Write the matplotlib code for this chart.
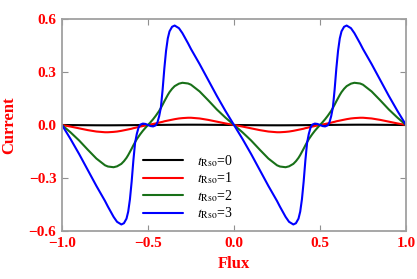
import matplotlib
matplotlib.use("Agg")
import matplotlib.pyplot as plt

plt.rcParams['mathtext.fontset'] = 'stix'
plt.rcParams['font.family'] = ['Liberation Serif', 'DejaVu Serif']

flux = [-1.0, -0.95, -0.90, -0.85, -0.80, -0.75, -0.733, -0.70, -0.68, -0.655, -0.64, -0.625,
        -0.615, -0.605, -0.595, -0.585, -0.575, -0.565, -0.555, -0.545, -0.53, -0.515,
        -0.50, -0.485, -0.47, -0.455, -0.445, -0.435, -0.425, -0.415, -0.405, -0.395,
        -0.385, -0.375, -0.36, -0.345, -0.32, -0.30, -0.267, -0.25, -0.20, -0.15, -0.10, -0.05,
        0.0, 0.05, 0.10, 0.15, 0.20, 0.25, 0.267, 0.30, 0.32, 0.345, 0.36, 0.375,
        0.385, 0.395, 0.405, 0.415, 0.425, 0.435, 0.445, 0.455, 0.47, 0.485,
        0.50, 0.515, 0.53, 0.545, 0.555, 0.565, 0.575, 0.585, 0.595, 0.605,
        0.615, 0.625, 0.64, 0.655, 0.68, 0.70, 0.733, 0.75, 0.80, 0.85, 0.90, 0.95, 1.0]

cur_t0 = [0, -0.0004, -0.0008, -0.0012, -0.0016, -0.0017, -0.0017, -0.0016, -0.0015, -0.0013, -0.0012, -0.0011,
          -0.001, -0.0009, -0.0008, -0.0007, -0.0006, -0.0005, -0.0004, -0.0003, -0.0002, 0,
          0, 0, 0.0002, 0.0003, 0.0004, 0.0005, 0.0006, 0.0007, 0.0008, 0.0009,
          0.001, 0.0011, 0.0012, 0.0013, 0.0015, 0.0016, 0.0017, 0.0017, 0.0016, 0.0012, 0.0008, 0.0004,
          0, -0.0004, -0.0008, -0.0012, -0.0016, -0.0017, -0.0017, -0.0016, -0.0015, -0.0013, -0.0012, -0.0011,
          -0.001, -0.0009, -0.0008, -0.0007, -0.0006, -0.0005, -0.0004, -0.0003, -0.0002, 0,
          0, 0, 0.0002, 0.0003, 0.0004, 0.0005, 0.0006, 0.0007, 0.0008, 0.0009,
          0.001, 0.0011, 0.0012, 0.0013, 0.0015, 0.0016, 0.0017, 0.0017, 0.0016, 0.0012, 0.0008, 0.0004, 0]

cur_t1 = [0, -0.009, -0.019, -0.029, -0.037, -0.041, -0.041, -0.039, -0.037, -0.033, -0.030, -0.027,
          -0.025, -0.023, -0.021, -0.018, -0.016, -0.0135, -0.011, -0.009, -0.006, -0.003,
          0, 0.003, 0.006, 0.009, 0.011, 0.0135, 0.016, 0.018, 0.021, 0.023,
          0.025, 0.027, 0.030, 0.033, 0.037, 0.039, 0.041, 0.041, 0.037, 0.029, 0.019, 0.009,
          0, -0.009, -0.019, -0.029, -0.037, -0.041, -0.041, -0.039, -0.037, -0.033, -0.030, -0.027,
          -0.025, -0.023, -0.021, -0.018, -0.016, -0.0135, -0.011, -0.009, -0.006, -0.003,
          0, 0.003, 0.006, 0.009, 0.011, 0.0135, 0.016, 0.018, 0.021, 0.023,
          0.025, 0.027, 0.030, 0.033, 0.037, 0.039, 0.041, 0.041, 0.037, 0.029, 0.019, 0.009, 0]

cur_t2 = [0, -0.042, -0.088, -0.14, -0.19, -0.228, -0.235, -0.239, -0.234, -0.22, -0.205, -0.186,
          -0.17, -0.152, -0.134, -0.115, -0.097, -0.08, -0.066, -0.052, -0.033, -0.016,
          0, 0.016, 0.033, 0.052, 0.066, 0.08, 0.097, 0.115, 0.134, 0.152,
          0.17, 0.186, 0.205, 0.22, 0.234, 0.239, 0.235, 0.228, 0.19, 0.14, 0.088, 0.042,
          0, -0.042, -0.088, -0.14, -0.19, -0.228, -0.235, -0.239, -0.234, -0.22, -0.205, -0.186,
          -0.17, -0.152, -0.134, -0.115, -0.097, -0.08, -0.066, -0.052, -0.033, -0.016,
          0, 0.016, 0.033, 0.052, 0.066, 0.08, 0.097, 0.115, 0.134, 0.152,
          0.17, 0.186, 0.205, 0.22, 0.234, 0.239, 0.235, 0.228, 0.19, 0.14, 0.088, 0.042, 0]

cur_t3 = [0, -0.08, -0.165, -0.255, -0.345, -0.43, -0.462, -0.52, -0.548, -0.563, -0.556, -0.53,
          -0.49, -0.42, -0.32, -0.20, -0.10, -0.05, -0.015, 0.002, 0.008, 0.006,
          0, -0.006, -0.008, -0.002, 0.015, 0.05, 0.10, 0.20, 0.32, 0.42,
          0.49, 0.53, 0.556, 0.563, 0.548, 0.52, 0.462, 0.43, 0.345, 0.255, 0.165, 0.08,
          0, -0.08, -0.165, -0.255, -0.345, -0.43, -0.462, -0.52, -0.548, -0.563, -0.556, -0.53,
          -0.49, -0.42, -0.32, -0.20, -0.10, -0.05, -0.015, 0.002, 0.008, 0.006,
          0, -0.006, -0.008, -0.002, 0.015, 0.05, 0.10, 0.20, 0.32, 0.42,
          0.49, 0.53, 0.556, 0.563, 0.548, 0.52, 0.462, 0.43, 0.345, 0.255, 0.165, 0.08, 0]

series = [cur_t0, cur_t1, cur_t2, cur_t3]
labels = [r'$t_{\mathrm{Rso}}$=0', r'$t_{\mathrm{Rso}}$=1', r'$t_{\mathrm{Rso}}$=2', r'$t_{\mathrm{Rso}}$=3']
colors = ['#000000', '#ff0000', '#187018', '#0000ff']

xticks = [-1.0, -0.5, 0.0, 0.5, 1.0]
yticks = [-0.6, -0.3, 0.0, 0.3, 0.6]

fig = plt.figure(figsize=(4.17, 2.79), dpi=100)
ax = fig.add_axes([62/417, 1-231/279, (406-62)/417, (231-19)/279])

for y, lab, c in zip(series, labels, colors):
    ax.plot(flux, y, color=c, lw=1.5, label=lab, solid_capstyle='round')

ax.set_xlim(-1, 1)
ax.set_ylim(-0.6, 0.6)
ax.set_xticks(xticks)
ax.set_yticks(yticks)
ax.set_xticklabels([f'{v:.1f}'.replace('-', '\u2212') for v in xticks])
ax.set_yticklabels([f'{v:.1f}'.replace('-', '\u2212') for v in yticks])

for s in ax.spines.values():
    s.set_color('#a0a0a0')
    s.set_linewidth(1.3)
ax.tick_params(direction='in', length=4, width=0.8, color='#909090',
               top=True, right=True, labelsize=11, labelcolor='red', pad=4)
for lbl in ax.get_xticklabels() + ax.get_yticklabels():
    lbl.set_fontweight('bold')

ax.set_xlabel('Flux', color='red', fontweight='bold', fontsize=12, labelpad=5)
ax.set_ylabel('Current', color='red', fontweight='bold', fontsize=12, labelpad=8)

leg = ax.legend(loc='upper left', bbox_to_anchor=(143/417, 1-153/279), bbox_transform=fig.transFigure,
                frameon=False, fontsize=10, handlelength=2.9, handletextpad=1.0,
                labelspacing=0.12, borderpad=0, borderaxespad=0)

fig.savefig('out.png', dpi=100)
